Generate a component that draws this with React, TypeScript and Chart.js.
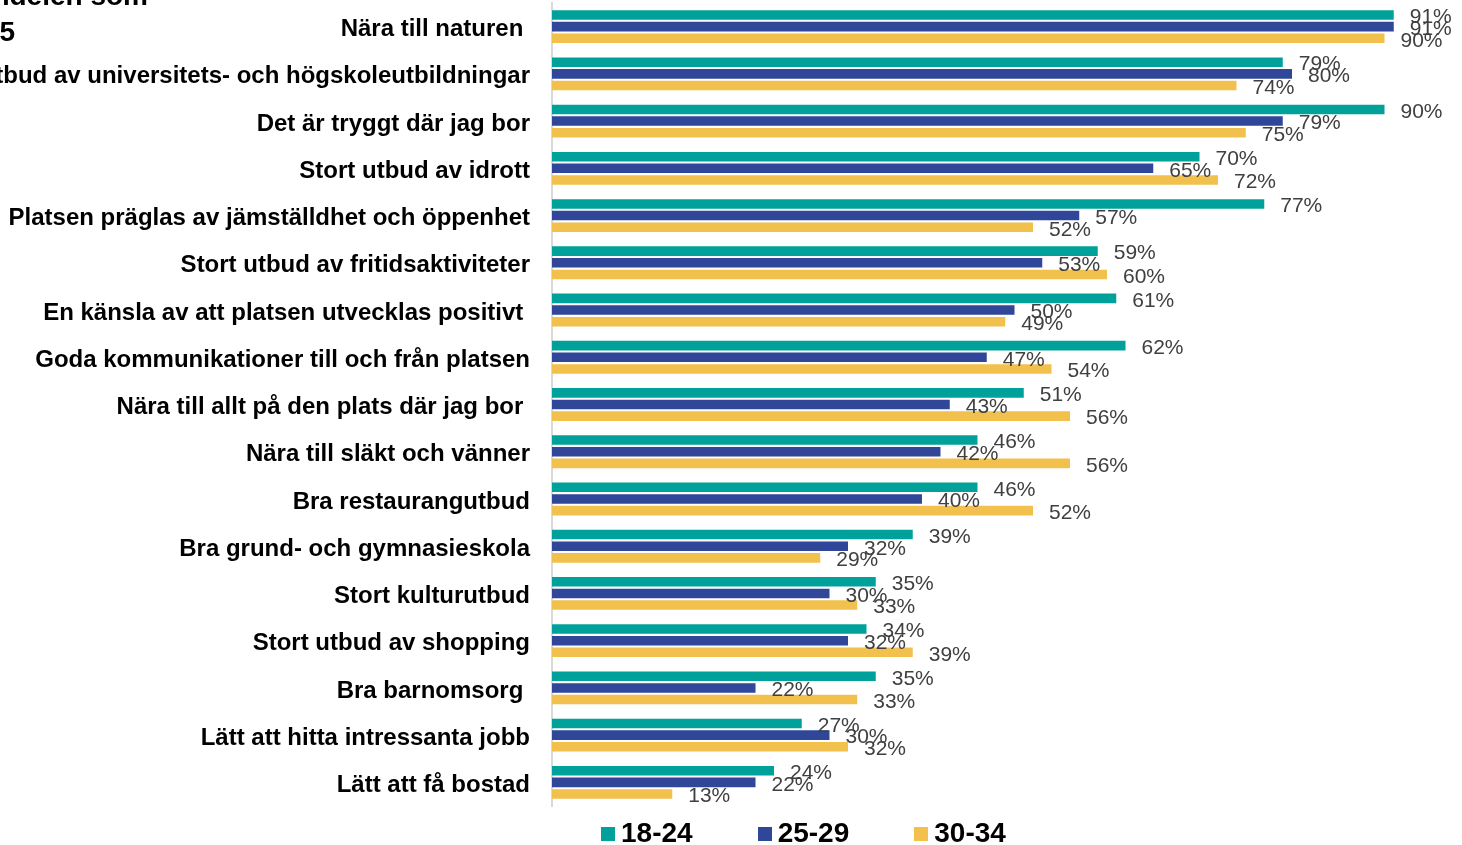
import React, { useEffect, useRef } from "react";
import { Chart, registerables } from "chart.js";

Chart.register(...registerables);

const categories = [
  "Nära till naturen ",
  "Stort utbud av universitets- och högskoleutbildningar",
  "Det är tryggt där jag bor",
  "Stort utbud av idrott",
  "Platsen präglas av jämställdhet och öppenhet",
  "Stort utbud av fritidsaktiviteter",
  "En känsla av att platsen utvecklas positivt ",
  "Goda kommunikationer till och från platsen",
  "Nära till allt på den plats där jag bor ",
  "Nära till släkt och vänner",
  "Bra restaurangutbud",
  "Bra grund- och gymnasieskola",
  "Stort kulturutbud",
  "Stort utbud av shopping",
  "Bra barnomsorg ",
  "Lätt att hitta intressanta jobb",
  "Lätt att få bostad",
];

const seriesNames = ["18-24", "25-29", "30-34"];
const values1824 = [91, 79, 90, 70, 77, 59, 61, 62, 51, 46, 46, 39, 35, 34, 35, 27, 24];
const values2529 = [91, 80, 79, 65, 57, 53, 50, 47, 43, 42, 40, 32, 30, 32, 22, 30, 22];
const values3034 = [90, 74, 75, 72, 52, 60, 49, 54, 56, 56, 52, 29, 33, 39, 33, 32, 13];
const seriesColors = ["#00A19A", "#2F4699", "#F2C04C"];
const titleLines = ["Andelen som", "2025"];

const FONT = "'Liberation Sans', Arial, Helvetica, sans-serif";
const OFFSET_X = 100; // canvas starts 100px left of the page

const labelPlugin = {
  id: "valueLabels",
  afterDatasetsDraw(chart: any) {
    const ctx = chart.ctx;
    ctx.save();
    ctx.font = `21px ${FONT}`;
    ctx.fillStyle = "#404040";
    ctx.textAlign = "left";
    ctx.textBaseline = "middle";
    chart.data.datasets.forEach((ds: any, di: number) => {
      const meta = chart.getDatasetMeta(di);
      meta.data.forEach((el: any, i: number) => {
        ctx.fillText(`${ds.data[i]}%`, el.x + 16, el.y + 2.5);
      });
    });
    ctx.restore();
  },
};

const titlePlugin = {
  id: "clippedTitle",
  afterDraw(chart: any) {
    const ctx = chart.ctx;
    ctx.save();
    ctx.font = `bold 28px ${FONT}`;
    ctx.fillStyle = "#000";
    ctx.textAlign = "right";
    ctx.textBaseline = "alphabetic";
    ctx.fillText(titleLines[0], OFFSET_X + 148, 5);
    ctx.fillText(titleLines[1], OFFSET_X + 15, 41);
    ctx.restore();
  },
};

export default function App() {
  const ref = useRef<HTMLCanvasElement | null>(null);

  useEffect(() => {
    document.body.style.margin = "0";
    const chart = new Chart(ref.current as HTMLCanvasElement, {
      type: "bar",
      data: {
        labels: categories,
        datasets: [values1824, values2529, values3034].map((d, i) => ({
          label: seriesNames[i],
          data: d,
          backgroundColor: seriesColors[i],
          borderWidth: 0,
          categoryPercentage: 0.74,
          barPercentage: 0.82,
        })),
      },
      options: {
        indexAxis: "y",
        animation: false,
        responsive: false,
        maintainAspectRatio: false,
        layout: { padding: { left: 0, right: 23, top: 3, bottom: 39 } },
        plugins: {
          legend: { display: false },
          tooltip: { enabled: false },
          title: { display: false },
        },
        scales: {
          x: { display: false, min: 0, max: 100 },
          y: {
            afterFit: (s: any) => {
              s.width = OFFSET_X + 552;
              s.paddingTop = 0;
              s.paddingBottom = 0;
            },
            grid: { display: false, drawTicks: false },
            border: { display: true, color: "#D9D9D9", width: 2 },
            ticks: {
              padding: 22,
              labelOffset: 3,
              color: "#000",
              autoSkip: false,
              font: { family: FONT, size: 24, weight: "bold" },
            },
          },
        },
      },
      plugins: [labelPlugin, titlePlugin],
    } as any);
    return () => chart.destroy();
  }, []);

  return (
    <div style={{ position: "relative", width: 1462, height: 845, overflow: "hidden", background: "#fff" }}>
      <canvas
        ref={ref}
        width={1600}
        height={845}
        style={{ position: "absolute", left: -OFFSET_X, top: 0, width: 1600, height: 845 }}
      />
      <div
        style={{
          position: "absolute",
          left: 601,
          top: 815,
          display: "flex",
          gap: 65,
          fontFamily: FONT,
          fontWeight: "bold",
          fontSize: 28,
          lineHeight: "36px",
          color: "#000",
        }}
      >
        {seriesNames.map((n, i) => (
          <div key={n} style={{ display: "flex", alignItems: "center" }}>
            <span style={{ width: 14, height: 14, background: seriesColors[i], marginRight: 6, marginTop: 2 }} />
            <span>{n}</span>
          </div>
        ))}
      </div>
    </div>
  );
}
